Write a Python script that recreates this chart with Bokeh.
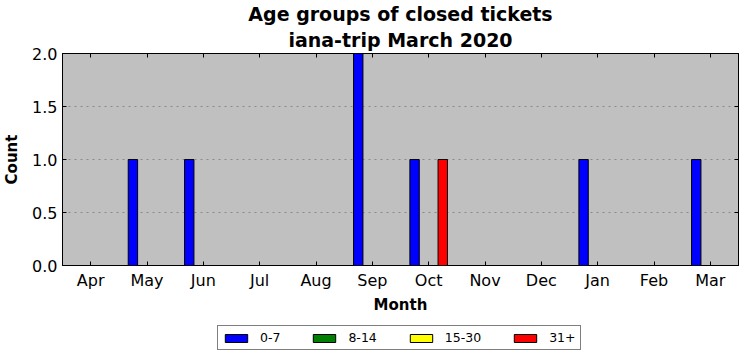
from bokeh.plotting import figure
from bokeh.layouts import column
from bokeh.models import (Range1d, FixedTicker, LinearAxis, Legend, LegendItem, ColumnDataSource, Title)
from bokeh.embed import file_html
from bokeh.resources import INLINE

months = ["Apr", "May", "Jun", "Jul", "Aug", "Sep", "Oct", "Nov", "Dec", "Jan", "Feb", "Mar"]
series_names = ["0-7", "8-14", "15-30", "31+"]
series_colors = ["#0000ff", "#008000", "#ffff00", "#ff0000"]
c_0_7 = [0, 1, 1, 0, 0, 2, 1, 0, 0, 1, 0, 1]
c_8_14 = [0, 0, 0, 0, 0, 0, 0, 0, 0, 0, 0, 0]
c_15_30 = [0, 0, 0, 0, 0, 0, 0, 0, 0, 0, 0, 0]
c_31 = [0, 0, 0, 0, 0, 0, 1, 0, 0, 0, 0, 0]
series_values = [c_0_7, c_8_14, c_15_30, c_31]
y_ticks = [0, 0.5, 1.0, 1.5, 2.0]
y_tick_labels = ["0.0", "0.5", "1.0", "1.5", "2.0"]

FONT = "DejaVu Sans"

p = figure(frame_width=676, frame_height=212, output_backend="svg", toolbar_location=None,
           x_range=Range1d(-0.5, 11.5), y_range=Range1d(0, 2),
           min_border_left=54, min_border_right=1, min_border_top=0, min_border_bottom=52,
           x_axis_location=None, y_axis_location=None)
p.background_fill_color = "#c0c0c0"
p.border_fill_color = "white"
p.outline_line_color = "black"
p.outline_line_width = 1

n = len(series_names)
width = 1.0 / (n + 2)
sources = []
for k in range(n):
    xs = [i + (k - (n - 1) / 2) * width for i in range(len(months))]
    src = ColumnDataSource(dict(x=xs, top=series_values[k]))
    sources.append(src)
    p.vbar(x="x", top="top", bottom=0, width=width, source=src,
           fill_color=series_colors[k], line_color="black", line_width=1)

xt = FixedTicker(ticks=list(range(len(months))))
yt = FixedTicker(ticks=y_ticks)
overrides = {i: m for i, m in enumerate(months)}

def style_axis(ax):
    ax.major_tick_in = 4
    ax.major_tick_out = 0
    ax.minor_tick_in = 0
    ax.minor_tick_out = 0
    ax.axis_line_color = "black"
    ax.major_tick_line_color = "black"
    ax.major_label_text_font = FONT
    ax.major_label_text_font_size = "16px"
    ax.major_label_text_color = "black"
    ax.axis_label_text_font = FONT
    ax.axis_label_text_font_style = "bold"
    ax.axis_label_text_font_size = "15px"
    ax.axis_label_text_color = "black"

xb = LinearAxis(ticker=xt, major_label_overrides=overrides, axis_label="Month")
style_axis(xb)
xb.major_label_standoff = 5
xb.axis_label_standoff = 3
p.add_layout(xb, "below")

yl = LinearAxis(ticker=yt, axis_label="Count",
                major_label_overrides={v: s for v, s in zip(y_ticks, y_tick_labels)})
style_axis(yl)
yl.major_label_standoff = 5
yl.axis_label_standoff = 8
p.add_layout(yl, "left")

xtop = LinearAxis(ticker=xt, major_label_overrides={i: "" for i in range(len(months))})
style_axis(xtop)
xtop.major_label_standoff = 0
p.add_layout(xtop, "above")

yr = LinearAxis(ticker=yt, major_label_overrides={v: "" for v in y_ticks})
style_axis(yr)
yr.major_label_standoff = 0
p.add_layout(yr, "right")

p.add_layout(Title(text="iana-trip March 2020", align="center", text_font=FONT,
                   text_font_size="19px", text_font_style="bold", text_color="black",
                   standoff=5, offset=0), "above")
p.add_layout(Title(text="Age groups of closed tickets", align="center", text_font=FONT,
                   text_font_size="19px", text_font_style="bold", text_color="black",
                   standoff=0, offset=0), "above")

p.xgrid.visible = False
p.ygrid.ticker = yt
p.ygrid.grid_line_color = "#8a8a8a"
p.ygrid.grid_line_dash = "2 4"
p.ygrid.grid_line_width = 1

# separate strip holding the legend below the chart (its frame aligns with the chart's frame)
lf = figure(width=731, height=36, output_backend="svg", toolbar_location=None,
            x_range=Range1d(-0.5, 11.5), y_range=Range1d(10, 11), min_border=0,
            x_axis_location=None, y_axis_location=None)
lf.outline_line_color = None
lf.background_fill_color = "white"
lf.border_fill_color = "white"
lf.xgrid.visible = False
lf.ygrid.visible = False
items = []
for k in range(n):
    # same series data; lies outside this strip's y-range, so only the legend swatch shows
    r = lf.vbar(x="x", top="top", bottom=0, width=width, source=sources[k],
                fill_color=series_colors[k], line_color="black", line_width=1)
    items.append(LegendItem(label=series_names[k], renderers=[r]))

legend = Legend(items=items, orientation="horizontal", location=(155, 3),
                border_line_color="black", border_line_width=1,
                label_text_font=FONT, label_text_font_size="12.5px", label_text_color="black",
                glyph_width=28, glyph_height=10, label_height=12,
                label_standoff=10, spacing=30, padding=4, margin=0,
                background_fill_color="white", background_fill_alpha=1.0)
lf.add_layout(legend, "center")

layout = column(p, lf)
open("out.html", "w").write(file_html(layout, INLINE))
